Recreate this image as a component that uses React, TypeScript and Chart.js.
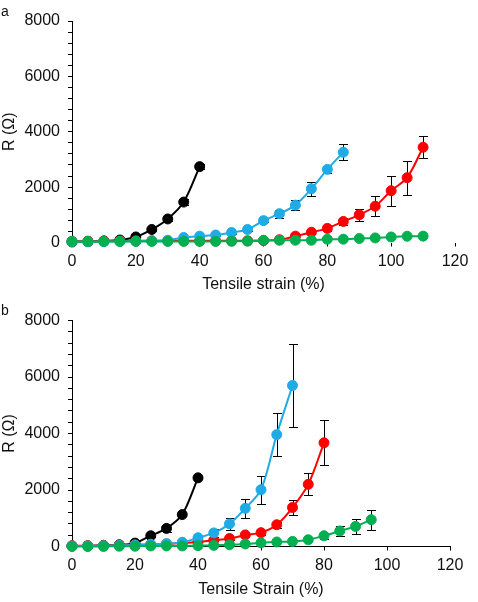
import React, { useEffect, useRef } from 'react';
import { Chart, registerables } from 'chart.js';

Chart.register(...registerables);

const FONT = '"Liberation Sans", Arial, Helvetica, sans-serif';
const TEXT = '#111111';

const BLACK = '#000000';
const BLUE = '#1EABE6';
const RED = '#FF0000';
const GREEN = '#00AF50';

// ---- Panel a: resistance vs tensile strain ----
const strainA_black = [0, 5, 10, 15, 20, 25, 30, 35, 40];
const resA_black = [20, 30, 50, 90, 200, 470, 850, 1460, 2740];
const errA_black = [0, 0, 0, 20, 30, 50, 80, 100, 80];

const strainA_blue = [0, 5, 10, 15, 20, 25, 30, 35, 40, 45, 50, 55, 60, 65, 70, 75, 80, 85];
const resA_blue = [30, 30, 30, 40, 50, 60, 80, 180, 230, 270, 360, 470, 790, 1040, 1350, 1940, 2640, 3260];
const errA_blue = [0, 0, 0, 0, 0, 0, 0, 0, 20, 30, 40, 40, 60, 150, 180, 250, 130, 290];

const strainA_red = [0, 5, 10, 15, 20, 25, 30, 35, 40, 45, 50, 55, 60, 65, 70, 75, 80, 85, 90, 95, 100, 105, 110];
const resA_red = [40, 50, 60, 60, 60, 60, 60, 60, 60, 60, 60, 60, 70, 100, 230, 370, 510, 760, 1000, 1310, 1870, 2340, 3440];
const errA_red = [0, 0, 0, 0, 0, 0, 0, 0, 0, 0, 0, 0, 0, 20, 40, 60, 110, 140, 220, 360, 540, 620, 400];

const strainA_green = [0, 5, 10, 15, 20, 25, 30, 35, 40, 45, 50, 55, 60, 65, 70, 75, 80, 85, 90, 95, 100, 105, 110];
const resA_green = [40, 40, 40, 40, 40, 40, 40, 40, 40, 40, 45, 50, 80, 80, 80, 80, 120, 120, 145, 165, 200, 225, 230];
const errA_green = [0, 0, 0, 0, 0, 0, 0, 0, 0, 0, 0, 0, 0, 0, 0, 0, 0, 0, 0, 0, 0, 0, 0];

// ---- Panel b ----
const strainB_black = [0, 5, 10, 15, 20, 25, 30, 35, 40];
const resB_black = [20, 20, 40, 60, 120, 380, 640, 1130, 2430];
const errB_black = [0, 0, 0, 0, 0, 50, 120, 60, 40];

const strainB_blue = [0, 5, 10, 15, 20, 25, 30, 35, 40, 45, 50, 55, 60, 65, 70];
const resB_blue = [20, 20, 30, 40, 50, 80, 100, 150, 310, 480, 800, 1350, 2010, 3960, 5700];
const errB_blue = [0, 0, 0, 0, 0, 0, 0, 0, 60, 140, 200, 340, 500, 760, 1480];

const strainB_red = [0, 5, 10, 15, 20, 25, 30, 35, 40, 45, 50, 55, 60, 65, 70, 75, 80];
const resB_red = [30, 30, 40, 50, 60, 70, 90, 120, 160, 220, 280, 410, 490, 770, 1380, 2200, 3670];
const errB_red = [0, 0, 0, 0, 0, 0, 0, 0, 0, 0, 40, 60, 70, 110, 260, 390, 800];

const strainB_green = [0, 5, 10, 15, 20, 25, 30, 35, 40, 45, 50, 55, 60, 65, 70, 75, 80, 85, 90, 95];
const resB_green = [0, 0, 0, 10, 10, 20, 20, 20, 30, 40, 60, 90, 130, 160, 180, 240, 380, 550, 710, 950];
const errB_green = [0, 0, 0, 0, 0, 0, 0, 0, 0, 0, 0, 0, 0, 0, 0, 60, 100, 180, 270, 355];

// Axis ranges and tick labels
const X_MIN = 0;
const X_MAX = 120;
const X_STEP = 20;
const Y_MIN = 0;
const Y_MAX = 8000;
const Y_MINOR_STEP = 400;
const Y_LABEL_STEP = 2000;
const Y_TITLE = 'R (Ω)';
const X_TITLE_A = 'Tensile strain (%)';
const X_TITLE_B = 'Tensile Strain (%)';

function series(xs: number[], ys: number[], errs: number[], color: string, order: number) {
  return {
    data: xs.map((x, i) => ({ x, y: ys[i] })),
    errors: errs,
    borderColor: color,
    backgroundColor: color,
    pointBackgroundColor: color,
    pointBorderColor: color,
    pointRadius: 5,
    pointBorderWidth: 1,
    pointHoverRadius: 5,
    borderWidth: 2,
    tension: 0.3,
    clip: false,
    order,
  };
}

// Vertical error bars with caps, drawn beneath the markers
const errorBarPlugin = {
  id: 'errorBars',
  beforeDatasetsDraw(chart: any) {
    const { ctx } = chart;
    const xs = chart.scales.x;
    const ys = chart.scales.y;
    ctx.save();
    ctx.strokeStyle = '#000';
    ctx.lineWidth = 1;
    chart.data.datasets.forEach((ds: any) => {
      const errs: number[] = ds.errors;
      if (!errs) return;
      ds.data.forEach((p: any, i: number) => {
        const e = errs[i];
        if (!e) return;
        const px = Math.round(xs.getPixelForValue(p.x)) + 0.5;
        const top = Math.round(ys.getPixelForValue(p.y + e)) + 0.5;
        const bot = Math.round(ys.getPixelForValue(p.y - e)) + 0.5;
        ctx.beginPath();
        ctx.moveTo(px, top);
        ctx.lineTo(px, bot);
        ctx.moveTo(px - 4.5, top);
        ctx.lineTo(px + 4.5, top);
        ctx.moveTo(px - 4.5, bot);
        ctx.lineTo(px + 4.5, bot);
        ctx.stroke();
      });
    });
    ctx.restore();
  },
};

// Panel letter in the top-left corner
const panelLetterPlugin = {
  id: 'panelLetter',
  afterDraw(chart: any, _args: any, opts: any) {
    if (!opts || !opts.text) return;
    const { ctx } = chart;
    ctx.save();
    ctx.fillStyle = TEXT;
    ctx.font = `14px ${FONT}`;
    ctx.textAlign = 'left';
    ctx.textBaseline = 'alphabetic';
    ctx.fillText(opts.text, opts.x, opts.y);
    ctx.restore();
  },
};

type PanelProps = {
  letter: string;
  letterY: number;
  datasets: any[];
  xTitle: string;
  height: number;
  topPad: number;
  rightPad: number;
  xAxisHeight: number;
  xTitlePad: number;
  showXLine: boolean;
};

function Panel(props: PanelProps) {
  const ref = useRef<HTMLCanvasElement | null>(null);
  useEffect(() => {
    if (!ref.current) return;
    const font = { family: FONT, size: 16 };
    const chart = new Chart(ref.current, {
      type: 'line',
      data: { datasets: props.datasets },
      plugins: [errorBarPlugin, panelLetterPlugin],
      options: {
        responsive: false,
        animation: false,
        events: [],
        layout: { padding: { top: props.topPad, right: props.rightPad, bottom: 0, left: 0 } },
        plugins: {
          legend: { display: false },
          tooltip: { enabled: false },
          panelLetter: { text: props.letter, x: 1, y: props.letterY },
        } as any,
        scales: {
          x: {
            type: 'linear',
            min: X_MIN,
            max: X_MAX,
            ticks: { stepSize: X_STEP, padding: 5.5, font, color: TEXT, maxRotation: 0, autoSkip: false },
            grid: { drawOnChartArea: false, drawTicks: true, tickLength: 4, color: '#000', lineWidth: 1 },
            border: { display: props.showXLine, color: '#000', width: 1 },
            title: { display: true, text: props.xTitle, font, color: TEXT, padding: { top: 0, bottom: props.xTitlePad } },
            afterFit: (s: any) => {
              s.height = props.xAxisHeight;
            },
          },
          y: {
            type: 'linear',
            min: Y_MIN,
            max: Y_MAX,
            ticks: {
              stepSize: Y_MINOR_STEP,
              autoSkip: false,
              padding: 8,
              font,
              color: TEXT,
              callback: (v: any) => (Number(v) % Y_LABEL_STEP === 0 ? String(v) : ''),
            },
            grid: { drawOnChartArea: false, drawTicks: true, tickLength: 4, color: '#000', lineWidth: 1 },
            border: { display: true, color: '#000', width: 1 },
            title: { display: true, text: Y_TITLE, font, color: TEXT, padding: { top: 0, bottom: 0 } },
            afterFit: (s: any) => {
              s.width = 72;
            },
          },
        } as any,
      },
    } as any);
    return () => chart.destroy();
  }, []);
  return <canvas ref={ref} width={478} height={props.height} style={{ display: 'block' }} />;
}

export default function App() {
  const datasetsA = [
    series(strainA_green, resA_green, errA_green, GREEN, 0),
    series(strainA_blue, resA_blue, errA_blue, BLUE, 1),
    series(strainA_red, resA_red, errA_red, RED, 2),
    series(strainA_black, resA_black, errA_black, BLACK, 3),
  ];
  const datasetsB = [
    series(strainB_green, resB_green, errB_green, GREEN, 0),
    series(strainB_blue, resB_blue, errB_blue, BLUE, 1),
    series(strainB_red, resB_red, errB_red, RED, 2),
    series(strainB_black, resB_black, errB_black, BLACK, 3),
  ];
  return (
    <div style={{ position: 'absolute', left: 0, top: 0, width: 478, height: 602, background: '#fff' }}>
      <Panel
        letter="a"
        letterY={16}
        datasets={datasetsA}
        xTitle={X_TITLE_A}
        height={300}
        topPad={21}
        rightPad={23}
        xAxisHeight={57.5}
        xTitlePad={5.4}
        showXLine={false}
      />
      <Panel
        letter="b"
        letterY={15}
        datasets={datasetsB}
        xTitle={X_TITLE_B}
        height={302}
        topPad={20.5}
        rightPad={28}
        xAxisHeight={55.5}
        xTitlePad={2.4}
        showXLine={true}
      />
    </div>
  );
}
